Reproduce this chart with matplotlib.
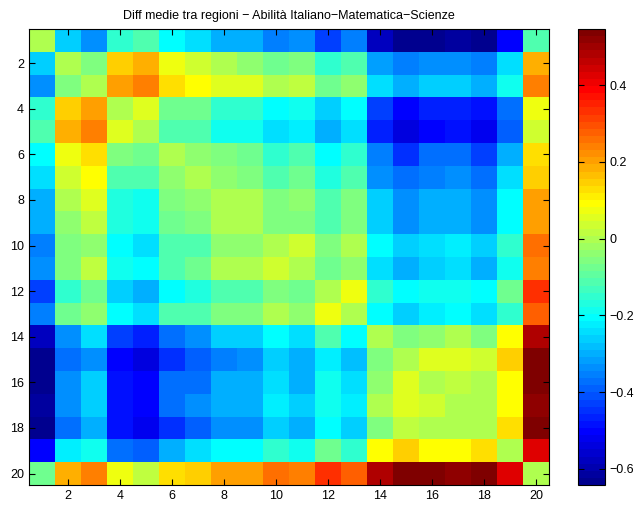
import numpy as np
import matplotlib
matplotlib.use('Agg')
import matplotlib.pyplot as plt
from matplotlib.colors import ListedColormap

# data: mean differences between 20 regions
regions = np.arange(1, 21)
r01 = [0.0, -0.262, -0.345, -0.143, -0.104, -0.197, -0.236, -0.30, -0.30, -0.363, -0.327, -0.42, -0.363, -0.586, -0.642, -0.624, -0.605, -0.64, -0.51, -0.104]
r02 = [-0.262, 0.0, -0.048, 0.14, 0.175, 0.065, 0.035, -0.01, -0.03, -0.084, -0.066, -0.143, -0.104, -0.32, -0.363, -0.33, -0.33, -0.363, -0.236, 0.175]
r03 = [-0.345, -0.048, 0.0, 0.199, 0.234, 0.127, 0.083, 0.055, 0.045, -0.01, 0.017, -0.084, -0.03, -0.25, -0.307, -0.27, -0.27, -0.29, -0.18, 0.249]
r04 = [-0.143, 0.14, 0.199, 0.0, 0.045, -0.084, -0.084, -0.143, -0.143, -0.197, -0.18, -0.27, -0.215, -0.42, -0.494, -0.457, -0.457, -0.475, -0.38, 0.065]
r05 = [-0.104, 0.184, 0.234, 0.055, 0.0, -0.104, -0.12, -0.18, -0.18, -0.236, -0.225, -0.307, -0.25, -0.457, -0.54, -0.51, -0.475, -0.52, -0.40, 0.035]
r06 = [-0.197, 0.075, 0.127, -0.066, -0.084, 0.0, -0.03, -0.066, -0.084, -0.143, -0.12, -0.197, -0.143, -0.363, -0.44, -0.38, -0.38, -0.42, -0.29, 0.12]
r07 = [-0.236, 0.035, 0.083, -0.104, -0.12, -0.03, 0.0, -0.03, -0.048, -0.104, -0.084, -0.16, -0.12, -0.33, -0.38, -0.363, -0.345, -0.38, -0.25, 0.15]
r08 = [-0.30, -0.01, 0.045, -0.16, -0.18, -0.066, -0.03, 0.0, 0.0, -0.048, -0.03, -0.104, -0.066, -0.27, -0.345, -0.307, -0.307, -0.327, -0.215, 0.21]
r09 = [-0.30, -0.03, 0.025, -0.16, -0.18, -0.084, -0.048, 0.0, 0.0, -0.048, -0.048, -0.104, -0.048, -0.27, -0.327, -0.29, -0.29, -0.327, -0.197, 0.21]
r10 = [-0.363, -0.066, -0.03, -0.197, -0.236, -0.104, -0.104, -0.03, -0.03, 0.0, 0.035, -0.066, -0.01, -0.215, -0.27, -0.24, -0.225, -0.262, -0.143, 0.26]
r11 = [-0.33, -0.048, 0.025, -0.18, -0.215, -0.12, -0.084, -0.01, -0.01, 0.035, 0.0, -0.084, -0.03, -0.25, -0.29, -0.27, -0.25, -0.30, -0.18, 0.249]
r12 = [-0.42, -0.143, -0.084, -0.27, -0.307, -0.197, -0.16, -0.12, -0.104, -0.066, -0.084, 0.0, 0.065, -0.143, -0.215, -0.18, -0.18, -0.197, -0.084, 0.34]
r13 = [-0.363, -0.084, -0.03, -0.215, -0.24, -0.12, -0.12, -0.066, -0.048, -0.01, -0.03, 0.065, 0.0, -0.197, -0.27, -0.23, -0.215, -0.25, -0.143, 0.285]
r14 = [-0.586, -0.327, -0.25, -0.42, -0.457, -0.38, -0.345, -0.27, -0.27, -0.215, -0.25, -0.12, -0.197, 0.0, -0.048, -0.03, -0.01, -0.048, 0.083, 0.49]
r15 = [-0.642, -0.38, -0.327, -0.494, -0.54, -0.44, -0.40, -0.363, -0.345, -0.27, -0.30, -0.225, -0.28, -0.048, 0.0, 0.045, 0.045, 0.035, 0.14, 0.546]
r16 = [-0.64, -0.327, -0.27, -0.475, -0.51, -0.38, -0.38, -0.307, -0.307, -0.25, -0.29, -0.18, -0.24, -0.03, 0.045, 0.0, 0.025, -0.01, 0.10, 0.53]
r17 = [-0.62, -0.327, -0.27, -0.475, -0.50, -0.38, -0.345, -0.307, -0.30, -0.23, -0.27, -0.18, -0.23, -0.01, 0.045, 0.035, 0.0, -0.01, 0.10, 0.51]
r18 = [-0.642, -0.38, -0.30, -0.475, -0.52, -0.44, -0.40, -0.327, -0.327, -0.27, -0.307, -0.197, -0.27, -0.048, 0.025, -0.01, -0.01, 0.0, 0.127, 0.546]
r19 = [-0.51, -0.23, -0.18, -0.38, -0.40, -0.29, -0.25, -0.215, -0.197, -0.143, -0.18, -0.084, -0.143, 0.083, 0.14, 0.10, 0.10, 0.12, 0.0, 0.433]
r20 = [-0.084, 0.175, 0.249, 0.065, 0.025, 0.12, 0.15, 0.21, 0.21, 0.26, 0.249, 0.34, 0.285, 0.49, 0.546, 0.53, 0.51, 0.546, 0.433, 0.0]

diffs = np.array([r01, r02, r03, r04, r05, r06, r07, r08, r09, r10,
                  r11, r12, r13, r14, r15, r16, r17, r18, r19, r20])
ticks = regions[1::2]
cbar_ticks = [-0.6, -0.4, -0.2, 0, 0.2, 0.4]
title = 'Diff medie tra regioni \u2212 Abilit\u00e0 Italiano\u2212Matematica\u2212Scienze'


# MATLAB style jet(64)
def matlab_jet(m=64):
    n = int(np.ceil(m / 4))
    u = np.concatenate([np.arange(1, n + 1) / n, np.ones(n - 1), np.arange(n, 0, -1) / n])
    g = int(np.ceil(n / 2)) - (1 if m % 4 == 1 else 0) + np.arange(1, len(u) + 1)
    r = g + n
    b = g - n
    J = np.zeros((m, 3))
    for col, idx in ((0, r), (1, g), (2, b)):
        ok = (idx >= 1) & (idx <= m)
        J[idx[ok] - 1, col] = u[ok]
    return ListedColormap(J)


plt.rcParams['font.family'] = ['Liberation Sans', 'DejaVu Sans']
plt.rcParams['font.size'] = 9

fig = plt.figure(figsize=(6.35, 5.07), dpi=100)
ax = fig.add_axes([29/635, 1 - 485/507, 520/635, 456/507])
cax = fig.add_axes([578/635, 1 - 485/507, 27/635, 456/507])

im = ax.imshow(diffs, cmap=matlab_jet(64), aspect='auto',
               interpolation='nearest',
               extent=(0.5, 20.5, 20.5, 0.5))
ax.set_xticks(ticks)
ax.set_yticks(ticks)
ax.tick_params(direction='in', top=True, right=True, length=4, width=0.8)
ax.set_title(title, fontsize=9, pad=7)

cb = fig.colorbar(im, cax=cax)
cb.set_ticks(cbar_ticks)
cb.ax.set_yticklabels(['\u22120.6', '\u22120.4', '\u22120.2', '0', '0.2', '0.4'])
cb.ax.tick_params(direction='in', left=True, right=True, length=4, width=0.8)
cb.outline.set_linewidth(0.8)

fig.savefig('out.png', dpi=100)
